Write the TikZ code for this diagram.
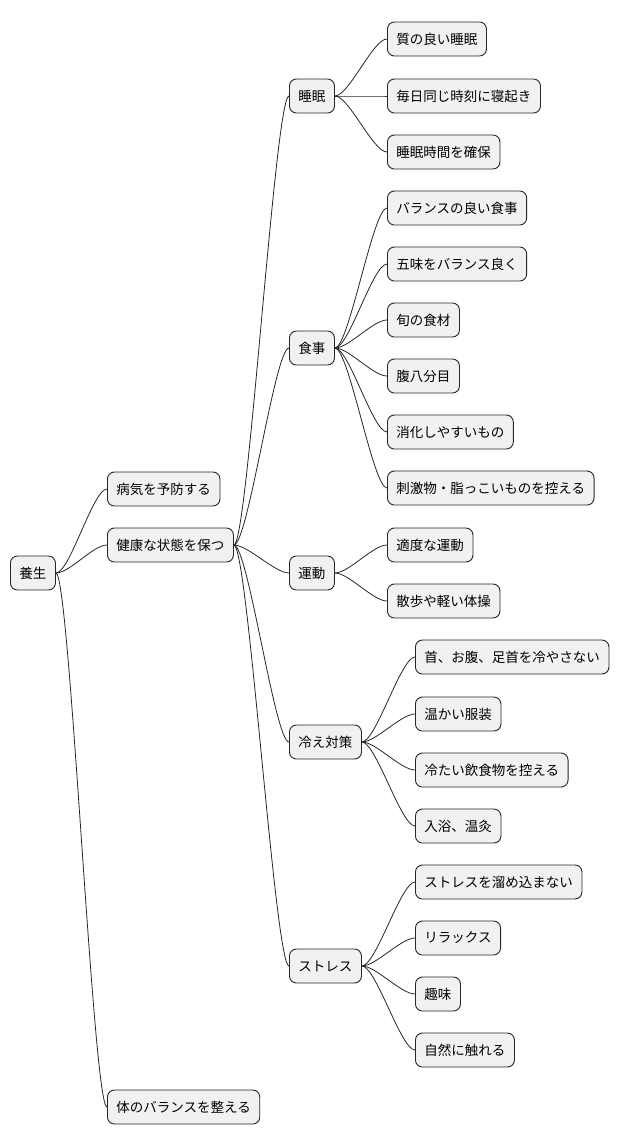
\documentclass[tikz,border=0pt]{standalone}
\usepackage{fontspec}
\setmainfont{Noto Sans CJK JP}
\begin{document}
\begin{tikzpicture}[x=1pt,y=-1pt,
  n/.style={draw=black!85,fill={rgb,255:red,241;green,241;blue,241},rounded corners=7pt,line width=0.9pt,anchor=west,minimum height=34pt,inner xsep=9pt,font=\fontsize{13.5}{14}\selectfont},
  c/.style={draw=black!85,line width=0.8pt}]
\useasboundingbox (0,0) rectangle (628,1146);
\node[n] (r) at (10,573) {養生};
\node[n] (a) at (107,489) {病気を予防する};
\node[n] (b) at (107,545) {健康な状態を保つ};
\node[n] (c) at (107,1107) {体のバランスを整える};
\node[n] (s) at (289,96) {睡眠};
\node[n] (f) at (289,348) {食事};
\node[n] (u) at (289,573) {運動};
\node[n] (h) at (289,742) {冷え対策};
\node[n] (t) at (289,966) {ストレス};
\node[n] (s1) at (387,39) {質の良い睡眠};
\node[n] (s2) at (387,96) {毎日同じ時刻に寝起き};
\node[n] (s3) at (387,152) {睡眠時間を確保};
\node[n] (f1) at (387,208) {バランスの良い食事};
\node[n] (f2) at (387,264) {五味をバランス良く};
\node[n] (f3) at (387,320) {旬の食材};
\node[n] (f4) at (387,376) {腹八分目};
\node[n] (f5) at (387,432) {消化しやすいもの};
\node[n] (f6) at (387,488) {刺激物・脂っこいものを控える};
\node[n] (u1) at (387,545) {適度な運動};
\node[n] (u2) at (387,601) {散歩や軽い体操};
\node[n] (h1) at (415,657) {首、お腹、足首を冷やさない};
\node[n] (h2) at (415,714) {温かい服装};
\node[n] (h3) at (415,770) {冷たい飲食物を控える};
\node[n] (h4) at (415,826) {入浴、温灸};
\node[n] (t1) at (415,882) {ストレスを溜め込まない};
\node[n] (t2) at (415,938) {リラックス};
\node[n] (t3) at (415,994) {趣味};
\node[n] (t4) at (415,1050) {自然に触れる};
\foreach \p/\k in {r/a,r/b,r/c,b/s,b/f,b/u,b/h,b/t,s/s1,s/s2,s/s3,f/f1,f/f2,f/f3,f/f4,f/f5,f/f6,u/u1,u/u2,h/h1,h/h2,h/h3,h/h4,t/t1,t/t2,t/t3,t/t4}
  \draw[c] (\p.east) .. controls ([xshift=14pt]\p.east) and ([xshift=-14pt]\k.west) .. (\k.west);
\end{tikzpicture}
\end{document}
